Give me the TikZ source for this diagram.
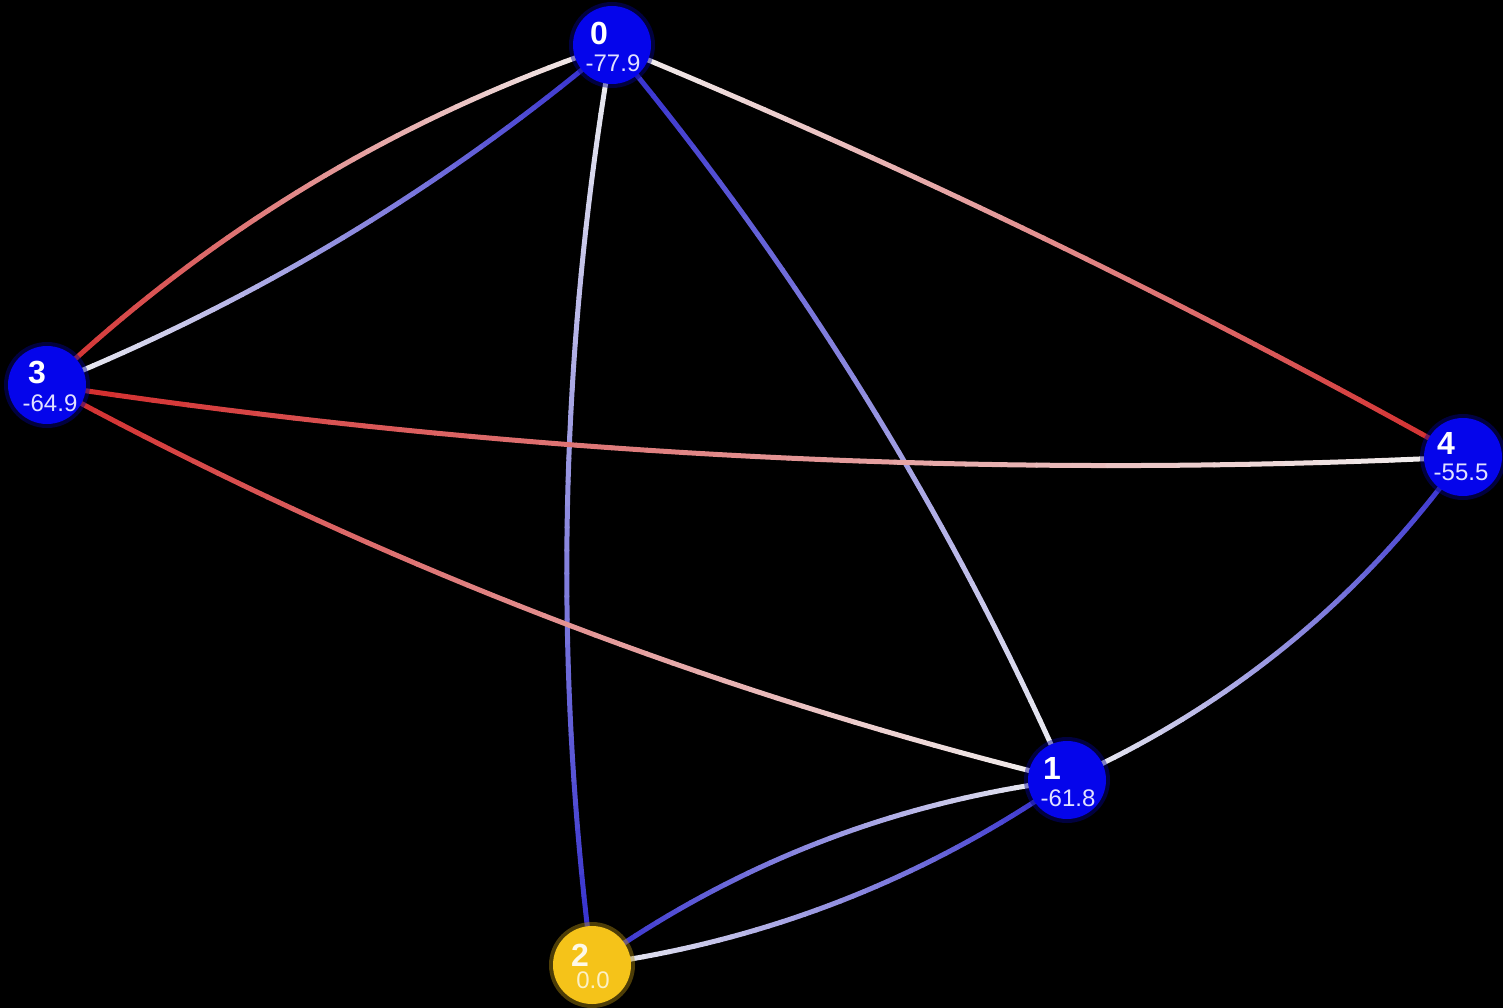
\documentclass[tikz,border=0pt]{standalone}
\usepackage{fontspec}
\setmainfont{Liberation Sans}
\usetikzlibrary{calc}
\pgfdeclarelayer{bg}
\pgfsetlayers{bg,main}
\definecolor{edgered}{RGB}{210,40,40}
\definecolor{edgeblue}{RGB}{45,40,205}
\definecolor{edgewhite}{RGB}{242,242,242}
\definecolor{nodeblue}{RGB}{5,5,235}
\definecolor{nodeyellow}{RGB}{245,195,25}
\definecolor{vallbl}{RGB}{225,225,255}
\tikzset{
  gnode/.style={circle, minimum size=78pt, inner sep=0pt, fill=nodeblue},
  ynode/.style={gnode, fill=nodeyellow},
  glow/.style={circle, minimum size=86pt, inner sep=0pt, fill=#1, opacity=0.45},
  numlbl/.style={text=white, font=\fontsize{32}{32}\selectfont\bfseries, inner sep=0pt},
  vallbl/.style={text=vallbl, font=\fontsize{24}{24}\selectfont, inner sep=0pt},
  gedge/.style={line width=5pt, line cap=round}
}
\newcommand\nseg{40}
% #1 start node (coloured end), #2 end node (white end), #3 bend factor, #4 colour
\newcommand\gradedge[4]{%
  \coordinate (ctl) at ($(#1)!0.5!(#2)!#3!90:(#2)$);
  \foreach \i in {1,...,\nseg} {
    \pgfmathsetmacro\ta{(\i-1)/\nseg}
    \pgfmathsetmacro\tb{\i/\nseg}
    \pgfmathtruncatemacro\pc{100*(1-(\i-0.5)/\nseg)}
    \draw[gedge, draw=#4!\pc!edgewhite]
      ($($(#1)!\ta!(ctl)$)!\ta!($(ctl)!\ta!(#2)$)$) --
      ($($(#1)!\tb!(ctl)$)!\tb!($(ctl)!\tb!(#2)$)$);
  }
}
\begin{document}
\begin{tikzpicture}[x=1pt,y=-1pt]
\useasboundingbox (0,0) rectangle (1503,1008);

% glows
\node[glow=nodeblue!60!black] at (612,45) {};
\node[glow=nodeblue!60!black] at (47,385) {};
\node[glow=nodeblue!60!black] at (1463,457) {};
\node[glow=nodeblue!60!black] at (1067,780) {};
\node[glow=nodeyellow!70!black] at (592,965) {};

% nodes
\node[gnode] (n0) at (612,45) {};
\node[gnode] (n3) at (47,385) {};
\node[gnode] (n4) at (1463,457) {};
\node[gnode] (n1) at (1067,780) {};
\node[ynode] (n2) at (592,965) {};

% background and edges
\begin{pgfonlayer}{bg}
\fill[black] (0,0) rectangle (1503,1008);
\gradedge{n3}{n0}{0.22}{edgered}
\gradedge{n0}{n3}{0.16}{edgeblue}
\gradedge{n4}{n0}{-0.06}{edgered}
\gradedge{n2}{n0}{0.15}{edgeblue}
\gradedge{n0}{n1}{0.14}{edgeblue}
\gradedge{n3}{n4}{-0.10}{edgered}
\gradedge{n3}{n1}{-0.13}{edgered}
\gradedge{n4}{n1}{0.27}{edgeblue}
\gradedge{n2}{n1}{0.25}{edgeblue}
\gradedge{n1}{n2}{0.24}{edgeblue}
\end{pgfonlayer}

% labels
\node[numlbl] (l0) at ($(n0)+(-13,-12)$) {0};
\node[vallbl] (v0) at ($(n0)+(1,18)$) {-77.9};
\node[numlbl] (l3) at ($(n3)+(-10,-12)$) {3};
\node[vallbl] (v3) at ($(n3)+(3,18)$) {-64.9};
\node[numlbl] (l4) at ($(n4)+(-17,-14)$) {4};
\node[vallbl] (v4) at ($(n4)+(-2,15)$) {-55.5};
\node[numlbl] (l1) at ($(n1)+(-15,-12)$) {1};
\node[vallbl] (v1) at ($(n1)+(1,18)$) {-61.8};
\node[numlbl, text=white!90!nodeyellow] (l2) at ($(n2)+(-12,-10)$) {2};
\node[vallbl, text=white!75!nodeyellow] (v2) at ($(n2)+(1,15)$) {0.0};
\end{tikzpicture}
\end{document}
